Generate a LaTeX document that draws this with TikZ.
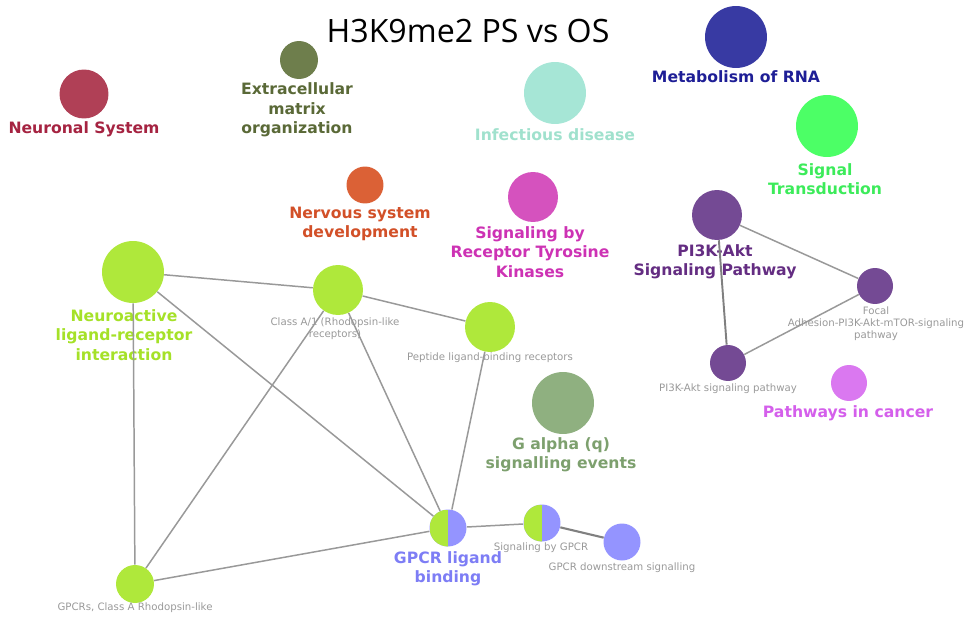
\documentclass[tikz,border=0pt]{standalone}
\usepackage{fontspec}
\setsansfont{DejaVu Sans}
\newfontfamily\titlefont{Open Sans}
\definecolor{cNeur}{RGB}{176,64,86}
\definecolor{tNeur}{RGB}{165,35,65}
\definecolor{cEcm}{RGB}{110,126,76}
\definecolor{tEcm}{RGB}{90,105,55}
\definecolor{cInf}{RGB}{166,230,214}
\definecolor{tInf}{RGB}{160,225,205}
\definecolor{cRna}{RGB}{56,58,163}
\definecolor{tRna}{RGB}{30,30,150}
\definecolor{cSig}{RGB}{76,255,102}
\definecolor{tSig}{RGB}{60,235,90}
\definecolor{cNerv}{RGB}{219,97,54}
\definecolor{tNerv}{RGB}{210,80,40}
\definecolor{cRtk}{RGB}{213,82,190}
\definecolor{tRtk}{RGB}{205,50,180}
\definecolor{cPi}{RGB}{116,74,148}
\definecolor{tPi}{RGB}{100,45,130}
\definecolor{cCan}{RGB}{218,120,240}
\definecolor{tCan}{RGB}{212,95,235}
\definecolor{cGaq}{RGB}{143,176,128}
\definecolor{tGaq}{RGB}{125,160,110}
\definecolor{cLime}{RGB}{175,232,59}
\definecolor{tLime}{RGB}{165,225,40}
\definecolor{cBlue}{RGB}{148,148,255}
\definecolor{tBlue}{RGB}{125,125,245}
\begin{document}
\begin{tikzpicture}[x=0.02cm, y=-0.02cm,
    ball/.style = {circle, inner sep=0pt, minimum size=#1*0.04cm},
    splitball/.style = {ball=#1, fill=cBlue, path picture={\fill[cLime] (path picture bounding box.south west) rectangle (path picture bounding box.north);}},
    bigtext/.style = {font=\sffamily\bfseries\fontsize{8.9}{11}\selectfont, align=center, text=#1, inner sep=0pt},
    smalltext/.style = {font=\sffamily\fontsize{5.8}{6.8}\selectfont, align=center, text=gray!80, inner sep=0pt},
    link/.style = {draw=gray!80, line width=0.85pt}]
    \useasboundingbox (0,0) rectangle (967,619);

    \node[font=\titlefont\fontsize{18.3}{22}\selectfont, inner sep=0pt] (title) at (468,31) {H3K9me2 PS vs OS};

    \node[ball=24.5, fill=cNeur] (neur) at (84,94) {};
    \node[bigtext=tNeur] (neurL) at (84,129) {Neuronal System};
    \node[ball=19, fill=cEcm] (ecm) at (299,60) {};
    \node[bigtext=tEcm] (ecmL) at (297,110) {Extracellular\\matrix\\organization};
    \node[ball=31, fill=cInf] (inf) at (555,93) {};
    \node[bigtext=tInf] (infL) at (555,135) {Infectious disease};
    \node[ball=31, fill=cRna] (rna) at (736,37) {};
    \node[bigtext=tRna] (rnaL) at (736,77) {Metabolism of RNA};
    \node[ball=31, fill=cSig] (sig) at (827,126) {};
    \node[bigtext=tSig] (sigL) at (825,179) {Signal\\Transduction};
    \node[ball=18.5, fill=cNerv] (nerv) at (365,185) {};
    \node[bigtext=tNerv] (nervL) at (360,224) {Nervous system\\development};
    \node[ball=25, fill=cRtk] (rtk) at (533,197) {};
    \node[bigtext=tRtk] (rtkL) at (530,252) {Signaling by\\Receptor Tyrosine\\Kinases};
    \node[ball=25, fill=cPi] (pibig) at (717,215) {};
    \node[bigtext=tPi] (pibigL) at (715,262) {PI3K-Akt\\Signaling Pathway};
    \node[ball=18, fill=cPi] (focal) at (875,286) {};
    \node[smalltext] (focalL) at (876,324) {Focal\\Adhesion-PI3K-Akt-mTOR-signaling\\pathway};
    \node[ball=18, fill=cPi] (pismall) at (728,363) {};
    \node[smalltext] (pismallL) at (728,389) {PI3K-Akt signaling pathway};
    \node[ball=18, fill=cCan] (can) at (849,383) {};
    \node[bigtext=tCan] (canL) at (848,413) {Pathways in cancer};
    \node[ball=31, fill=cGaq] (gaq) at (563,403) {};
    \node[bigtext=tGaq] (gaqL) at (561,455) {G alpha (q)\\signalling events};

    \node[ball=31, fill=cLime] (neuro) at (133,272) {};
    \node[bigtext=tLime] (neuroL) at (124,335) {Neuroactive\\ligand-receptor\\interaction};
    \node[ball=25, fill=cLime] (classA) at (338,290) {};
    \node[smalltext] (classAL) at (335,329) {Class A/1 (Rhodopsin-like\\receptors)};
    \node[ball=25, fill=cLime] (pept) at (490,327) {};
    \node[smalltext] (peptL) at (490,358) {Peptide ligand-binding receptors};
    \node[splitball=18.5] (gpcrlb) at (448,528) {};
    \node[bigtext=tBlue] (gpcrlbL) at (448,569) {GPCR ligand\\binding};
    \node[splitball=18.5] (sigg) at (542,523) {};
    \node[smalltext] (siggL) at (541,548) {Signaling by GPCR};
    \node[ball=18.5, fill=cBlue] (down) at (622,542) {};
    \node[smalltext] (downL) at (622,568) {GPCR downstream signalling};
    \node[ball=19, fill=cLime] (gpcrA) at (135,584) {};
    \node[smalltext] (gpcrAL) at (135,608) {GPCRs, Class A Rhodopsin-like};

    \draw[link] (neuro) -- (classA);
    \draw[link] (neuro) -- (gpcrlb);
    \draw[link] (neuro) -- (gpcrA);
    \draw[link] (classA) -- (pept);
    \draw[link] (classA) -- (gpcrlb);
    \draw[link] (classA) -- (gpcrA);
    \draw[link] (pept) -- (gpcrlb);
    \draw[link] (gpcrA) -- (gpcrlb);
    \draw[link] (gpcrlb) -- (sigg);
    \draw[link, draw=gray, line width=1.2pt] (sigg) -- (down);
    \draw[link] (pibig) -- (focal);
    \draw[link, draw=gray, line width=1.1pt] (pibig) -- (pismall);
    \draw[link] (pismall) -- (focal);
\end{tikzpicture}
\end{document}
